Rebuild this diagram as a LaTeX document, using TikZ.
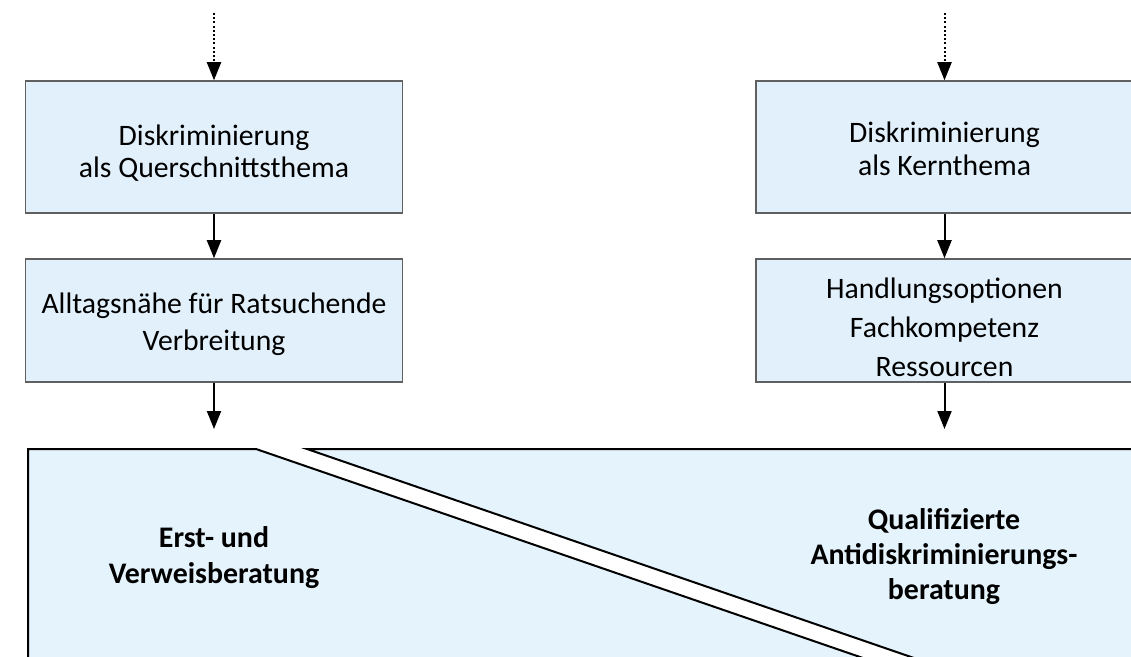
\documentclass[tikz,border=0pt]{standalone}
\usepackage{fontspec}
\setmainfont{Carlito}
\usetikzlibrary{arrows.meta}
\definecolor{boxblue}{RGB}{225,240,251}
\definecolor{fieldblue}{RGB}{229,243,253}
\definecolor{boxgray}{RGB}{96,96,96}
\newcommand{\topgap}[1]{\rule{0pt}{#1}}
\tikzset{
  themebox/.style={draw=boxgray, line width=1.5bp, fill=boxblue, minimum width=377bp,
    inner sep=0pt, align=center, font=\fontsize{29.8}{33}\selectfont},
  flow/.style={line width=2bp, -{Triangle[width=14bp,length=18bp]}},
  feed/.style={flow, dash pattern=on 2bp off 2.2bp},
  field/.style={draw=black, line width=2bp, fill=fieldblue},
  fieldtext/.style={align=center, font=\fontsize{30}{35.5}\selectfont\bfseries}
}
\begin{document}
\begin{tikzpicture}[x=1bp,y=-1bp]
    \useasboundingbox (0,0) rectangle (1131,657);
    \clip (0,0) rectangle (1131,657);
    % bottom fields
    \draw[field] (28,720) -- (28,449) -- (256,449) -- (1043,720) -- cycle;
    \draw[field] (307,449) -- (1180,449) -- (1180,720) -- (1094,720) -- cycle;
    \node[fieldtext] (erst) at (214,557.5) {Erst- und\\Verweisberatung};
    \node[fieldtext] (quali) at (944,556.5) {Qualifizierte\\Antidiskriminierungs-\\beratung};
    % left column
    \coordinate (srcL) at (214,13);
    \node[themebox, minimum height=132bp] (quer) at (214,147) {\topgap{33bp}Diskriminierung\\als Querschnittsthema};
    \node[themebox, minimum height=123bp, font=\fontsize{29.8}{38}\selectfont] (alltag) at (214,320.5) {\topgap{28bp}Alltagsnähe für Ratsuchende\\Verbreitung};
    \coordinate (erstIn) at (214,429);
    % right column
    \coordinate (srcR) at (944.5,13);
    \node[themebox, minimum height=132bp] (kern) at (944.5,147) {\topgap{25bp}Diskriminierung\\als Kernthema};
    \node[themebox, minimum height=123bp, font=\fontsize{29.8}{39.5}\selectfont] (optionen) at (944.5,320.5) {\topgap{34bp}Handlungsoptionen\\Fachkompetenz\\Ressourcen};
    \coordinate (qualiIn) at (944.5,429);
    % connectors
    \draw[feed] (srcL) -- (quer);
    \draw[flow] (quer) -- (alltag);
    \draw[flow] (alltag) -- (erstIn);
    \draw[feed] (srcR) -- (kern);
    \draw[flow] (kern) -- (optionen);
    \draw[flow] (optionen) -- (qualiIn);
\end{tikzpicture}
\end{document}
